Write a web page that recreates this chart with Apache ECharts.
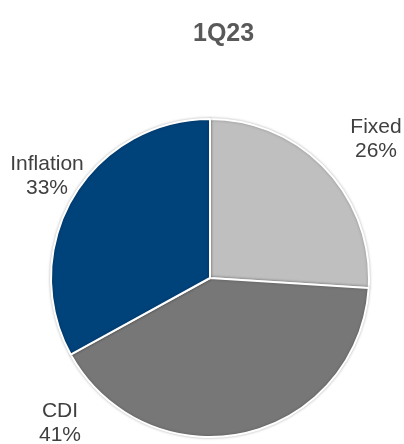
<!DOCTYPE html>
<html>
<head>
<meta charset="utf-8">
<script src="https://cdn.jsdelivr.net/npm/echarts@6/dist/echarts.min.js"></script>
<style>
  html, body { margin: 0; padding: 0; background: #fff; }
  #chart { width: 404px; height: 444px; }
</style>
</head>
<body>
<div id="chart"></div>
<script>
// Funding mix by indexer, 1Q23
const categories = ['Fixed', 'CDI', 'Inflation'];
const shares = [26, 41, 33];
const sliceColors = ['#BFBFBF', '#777777', '#00427A'];

// Hand-placed label anchors (label centre) for each slice
const labelSpots = [[376, 139], [60, 423], [47, 176]];

const chart = echarts.init(document.getElementById('chart'), null, { renderer: 'canvas' });

chart.setOption({
  animation: false,
  title: {
    text: '1Q23',
    left: 188,
    top: 17,
    textStyle: {
      fontFamily: 'Liberation Sans, Arial, sans-serif',
      fontSize: 25,
      fontWeight: 'bold',
      color: '#595959'
    }
  },
  series: [{
    type: 'pie',
    center: [210, 278],
    radius: 159,
    startAngle: 90,
    clockwise: true,
    data: categories.map((name, i) => ({
      name: name,
      value: shares[i],
      itemStyle: { color: sliceColors[i] }
    })),
    itemStyle: {
      borderColor: '#ffffff',
      borderWidth: 2,
      shadowBlur: 3,
      shadowColor: 'rgba(0,0,0,0.25)'
    },
    label: {
      show: true,
      position: 'outside',
      formatter: p => p.name + '\n' + p.value + '%',
      fontFamily: 'Liberation Sans, Arial, sans-serif',
      fontSize: 21,
      lineHeight: 24,
      color: '#404040',
      align: 'center',
      overflow: 'none'
    },
    labelLine: { show: false },
    labelLayout: params => ({
      x: labelSpots[params.dataIndex][0],
      y: labelSpots[params.dataIndex][1],
      align: 'center',
      verticalAlign: 'middle'
    })
  }]
});
</script>
</body>
</html>
